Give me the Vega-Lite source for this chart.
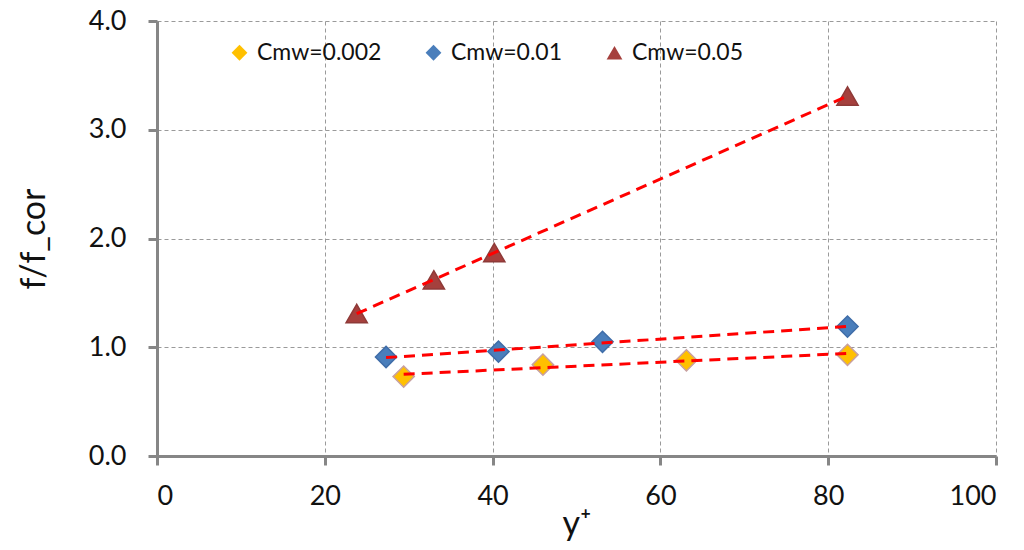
{
  "$schema": "https://vega.github.io/schema/vega-lite/v6.json",
  "autosize": "none",
  "width": 839,
  "height": 435,
  "padding": {"left": 157, "top": 21, "right": 28, "bottom": 94},
  "background": "white",
  "config": {
    "font": "Lato",
    "view": {"stroke": null},
    "axis": {
      "domainColor": "#868686",
      "domainWidth": 3,
      "tickColor": "#868686",
      "tickWidth": 3,
      "tickSize": 9,
      "gridColor": "#9a9a9a",
      "gridDash": [4, 3],
      "gridWidth": 1,
      "labelFont": "Lato",
      "labelFontSize": 27,
      "labelColor": "#111",
      "titleFont": "Lato",
      "titleFontSize": 34,
      "titleFontWeight": "normal",
      "titleColor": "#111"
    }
  },
  "data": {
    "values": [
      {"series": "Cmw=0.002", "yplus": 29.4, "ratio": 0.73},
      {"series": "Cmw=0.002", "yplus": 46.0, "ratio": 0.84},
      {"series": "Cmw=0.002", "yplus": 63.1, "ratio": 0.88},
      {"series": "Cmw=0.002", "yplus": 82.3, "ratio": 0.93},
      {"series": "Cmw=0.01", "yplus": 27.3, "ratio": 0.91},
      {"series": "Cmw=0.01", "yplus": 40.7, "ratio": 0.96},
      {"series": "Cmw=0.01", "yplus": 53.1, "ratio": 1.05},
      {"series": "Cmw=0.01", "yplus": 82.3, "ratio": 1.19},
      {"series": "Cmw=0.05", "yplus": 23.8, "ratio": 1.31},
      {"series": "Cmw=0.05", "yplus": 33.0, "ratio": 1.62},
      {"series": "Cmw=0.05", "yplus": 40.2, "ratio": 1.87},
      {"series": "Cmw=0.05", "yplus": 82.3, "ratio": 3.31}
    ]
  },
  "encoding": {
    "x": {
      "field": "yplus", "type": "quantitative",
      "scale": {"domain": [0, 100], "nice": false},
      "axis": {"values": [0, 20, 40, 60, 80, 100], "title": "y⁺", "labelPadding": 18, "titlePadding": -2}
    },
    "y": {
      "field": "ratio", "type": "quantitative",
      "scale": {"domain": [0, 4], "nice": false},
      "axis": {"values": [0, 1, 2, 3, 4], "format": ".1f", "title": "f/f_cor", "labelPadding": 22, "titlePadding": 37}
    }
  },
  "layer": [
    {
      "mark": {"type": "point", "filled": true, "opacity": 1, "strokeWidth": 1.5},
      "encoding": {
        "color": {
          "field": "series", "type": "nominal", "title": null,
          "scale": {"domain": ["Cmw=0.002", "Cmw=0.01", "Cmw=0.05"], "range": ["#FFC000", "#4A7EBB", "#A5403D"]}
        },
        "stroke": {
          "field": "series", "type": "nominal", "title": null,
          "scale": {"domain": ["Cmw=0.002", "Cmw=0.01", "Cmw=0.05"], "range": ["#C8A0A0", "#3F6DA8", "#8E3A38"]}
        },
        "shape": {
          "field": "series", "type": "nominal", "title": null,
          "scale": {"domain": ["Cmw=0.002", "Cmw=0.01", "Cmw=0.05"], "range": ["diamond", "diamond", "triangle-up"]},
          "legend": {
            "orient": "none", "legendX": 71, "legendY": 20,
            "direction": "horizontal",
            "labelFont": "Lato", "labelFontSize": 23, "labelColor": "#111",
            "symbolSize": 250, "symbolStrokeWidth": 0,
            "columnPadding": 40, "labelOffset": 6
          }
        },
        "size": {"value": 450}
      }
    },
    {
      "transform": [
        {"regression": "ratio", "on": "yplus", "groupby": ["series"], "method": "linear"}
      ],
      "mark": {"type": "line", "color": "#FF0000", "strokeWidth": 3, "strokeDash": [11, 7]},
      "encoding": {
        "detail": {"field": "series", "type": "nominal"}
      }
    }
  ]
}
